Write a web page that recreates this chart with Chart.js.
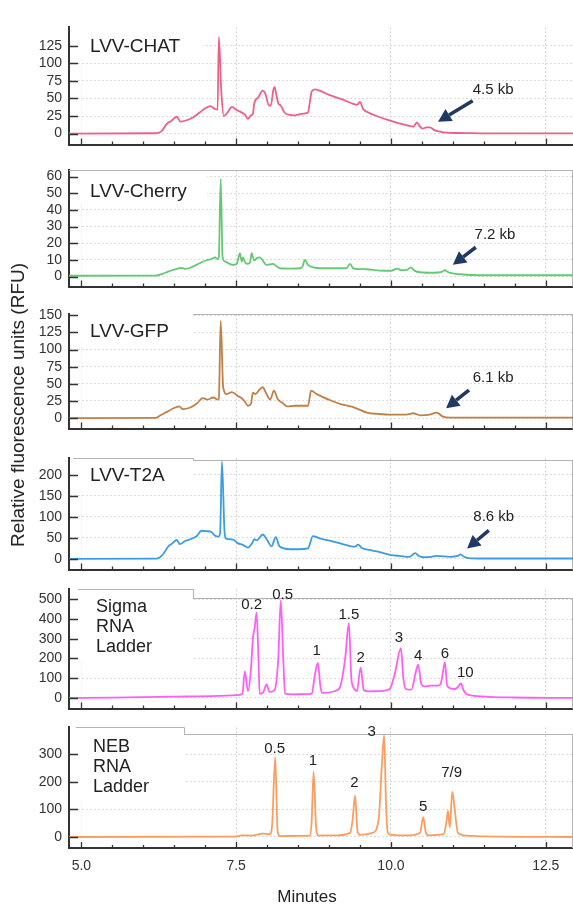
<!DOCTYPE html>
<html>
<head>
<meta charset="utf-8">
<script src="https://cdn.jsdelivr.net/npm/chart.js@4.4.1/dist/chart.umd.min.js"></script>
<style>
  html, body { margin: 0; padding: 0; background: #fff; }
  #wrap { position: relative; width: 573px; height: 910px; overflow: hidden;
          font-family: "Liberation Sans", Arial, sans-serif; }
  #wrap canvas { position: absolute; left: 0; }
  #ytitle { position: absolute; left: 18px; top: 405px; white-space: nowrap;
            transform: translate(-50%, -50%) rotate(-90deg);
            font-size: 19px; color: #222; }
</style>
</head>
<body>
<div id="wrap"><div id="ytitle">Relative fluorescence units (RFU)</div></div>
<script>
// ── Shared x axis (minutes) ─────────────────────────────────────────
var X_MIN = 4.8, X_MAX = 12.94;
var X_TICKS = [5.0, 5.5, 6.0, 6.5, 7.0, 7.5, 8.0, 8.5, 9.0, 9.5, 10.0, 10.5, 11.0, 11.5, 12.0, 12.5];
var X_LABELS = [5.0, 7.5, 10.0, 12.5];

// ── Traces: [minutes, RFU] ──────────────────────────────────────────
var lvvChat = [[4.8,0],[6.2,0.5],[6.3,4],[6.38,14],[6.45,18],[6.54,24],[6.6,17],[6.7,19],[6.8,23],[6.91,30],
  [7.0,36],[7.08,39],[7.16,35],[7.2,34],[7.22,137],[7.26,60],[7.3,25],[7.36,30],[7.43,38],[7.5,34],[7.59,30],
  [7.64,27],[7.69,21],[7.74,26],[7.77,28],[7.79,42],[7.86,52],[7.93,61],[7.97,57],[8.03,40],[8.06,40],[8.1,62],
  [8.12,66],[8.15,55],[8.18,43],[8.22,40],[8.28,30],[8.34,27],[8.45,26],[8.55,28],[8.66,30],[8.69,45],[8.72,60],
  [8.77,63],[8.9,59],[9.0,55],[9.2,49],[9.4,42],[9.45,41],[9.5,45],[9.55,35],[9.61,31],[9.8,24],[10.0,18],
  [10.2,13],[10.36,10],[10.42,16],[10.46,11],[10.51,7],[10.57,9],[10.63,9],[10.7,5],[10.79,3],[10.9,1.5],
  [11.2,0.8],[11.55,0.3],[12.94,0.3]];
var lvvCherry = [[4.8,0.5],[6.2,0.6],[6.3,1.5],[6.4,3],[6.5,4.2],[6.62,5.2],[6.68,4.6],[6.8,6],[6.91,8],[7.02,9.8],
  [7.1,10.5],[7.16,11.5],[7.2,10.5],[7.22,12],[7.25,58.5],[7.28,12],[7.32,9],[7.45,7],[7.51,7.7],[7.56,14],
  [7.59,9],[7.61,11.5],[7.64,9],[7.67,7.6],[7.72,8.2],[7.75,14],[7.79,9.7],[7.84,11.2],[7.88,11.5],[7.94,9],
  [7.99,7],[8.09,7.6],[8.21,5],[8.4,4.8],[8.53,5],[8.57,6],[8.61,10],[8.66,7],[8.75,5.5],[8.85,5],[9.28,5],
  [9.34,7.6],[9.39,5],[9.6,4.4],[9.82,3.6],[10.0,3.5],[10.11,4.8],[10.16,3.8],[10.26,4],[10.32,5.5],[10.38,3.6],
  [10.47,2.6],[10.7,2.3],[10.82,2.8],[10.87,3.8],[10.93,2.5],[11.12,1.4],[11.44,0.8],[12.94,0.8]];
var lvvGfp = [[4.8,0],[6.2,0.3],[6.26,3],[6.38,9],[6.48,14],[6.58,17],[6.64,13],[6.75,15],[6.86,21],[6.96,29],
  [7.04,27],[7.13,30],[7.2,27],[7.22,28],[7.25,142],[7.29,45],[7.35,35],[7.43,38],[7.53,32],[7.59,29],[7.64,24],
  [7.69,18],[7.74,21],[7.77,37],[7.81,35],[7.88,42],[7.93,45],[7.98,37],[8.05,27],[8.11,40],[8.17,28],[8.25,22],
  [8.32,17],[8.45,18],[8.66,18],[8.71,40],[8.8,35],[9.02,26],[9.2,20],[9.39,16],[9.61,8],[9.8,6],[9.98,5],
  [10.25,5],[10.31,6],[10.36,7],[10.47,4],[10.6,4.5],[10.74,8],[10.84,2],[10.95,0.5],[12.94,0.5]];
var lvvT2a = [[4.8,0],[6.2,0.5],[6.27,4],[6.32,11],[6.4,29],[6.47,37],[6.54,45],[6.59,35],[6.67,42],[6.78,48],
  [6.86,54],[6.94,67],[7.02,66],[7.1,64],[7.16,55],[7.21,53],[7.24,60],[7.27,231],[7.31,70],[7.33,49],[7.37,47],
  [7.45,46],[7.53,37],[7.6,34],[7.69,27],[7.76,38],[7.79,47],[7.83,44],[7.93,58],[8.0,45],[8.07,30],[8.14,52],
  [8.2,30],[8.37,23],[8.5,23],[8.66,25],[8.74,54],[8.85,49],[9.1,40],[9.3,32],[9.42,29],[9.47,34],[9.53,26],
  [9.7,20],[9.82,16],[10.0,9],[10.14,7],[10.3,5],[10.39,14],[10.45,7],[10.52,4],[10.65,5],[10.74,7],[10.95,5],
  [11.08,7],[11.12,11],[11.18,5],[11.25,2],[11.5,1],[12.94,1]];
var sigmaLadder = [[4.8,0],[5.5,1],[6.5,6],[7.2,10],[7.5,14],[7.6,20],[7.64,135],[7.69,34],[7.74,150],[7.77,300],
  [7.8,360],[7.83,433],[7.86,200],[7.88,20],[7.94,30],[7.99,68],[8.04,30],[8.12,40],[8.18,200],[8.22,495],
  [8.26,200],[8.29,22],[8.42,18],[8.6,19],[8.72,22],[8.77,113],[8.82,178],[8.86,60],[8.89,25],[9.1,35],[9.18,57],
  [9.26,200],[9.32,380],[9.36,100],[9.4,50],[9.45,35],[9.51,154],[9.56,40],[9.63,33],[9.8,34],[9.98,45],
  [10.06,120],[10.16,252],[10.2,100],[10.24,45],[10.33,42],[10.4,130],[10.44,169],[10.49,70],[10.55,58],
  [10.63,62],[10.76,62],[10.8,70],[10.83,110],[10.87,182],[10.91,60],[11.03,45],[11.08,55],[11.13,73],
  [11.17,40],[11.22,20],[11.44,8],[11.97,2],[12.94,0]];
var nebLadder = [[4.8,0],[7.45,1],[7.6,6],[7.75,5],[7.93,12],[8.04,10],[8.08,40],[8.13,290],[8.17,20],[8.21,3],
  [8.5,4],[8.69,5],[8.72,60],[8.75,237],[8.79,40],[8.82,5],[9.1,6],[9.34,15],[9.38,60],[9.42,151],[9.46,20],
  [9.5,8],[9.7,15],[9.8,60],[9.85,250],[9.89,370],[9.92,120],[9.95,15],[10.0,8],[10.3,6],[10.47,15],[10.52,72],
  [10.56,20],[10.6,6],[10.85,10],[10.9,60],[10.92,95],[10.95,35],[10.99,164],[11.03,100],[11.08,15],[11.22,5],
  [11.5,2],[12.94,0]];

// ── Y tick labels ───────────────────────────────────────────────────
var chatTicks = [0, 25, 50, 75, 100, 125];
var cherryTicks = [0, 10, 20, 30, 40, 50, 60];
var gfpTicks = [0, 25, 50, 75, 100, 125, 150];
var t2aTicks = [0, 50, 100, 150, 200];
var sigmaTicks = [0, 100, 200, 300, 400, 500];
var nebTicks = [0, 100, 200, 300];

// ── Annotations: [text, x, y, tailX, tailY, headX, headY] ───────────
var chatNote = ['4.5 kb', 11.65, 62.5, 11.32, 46.9, 10.76, 16.9];
var cherryNote = ['7.2 kb', 11.68, 25.2, 11.37, 17.6, 11.0, 7.1];
var gfpNote = ['6.1 kb', 11.65, 58.2, 11.26, 40.9, 10.89, 14.2];
var t2aNote = ['8.6 kb', 11.66, 100, 11.58, 67.8, 11.23, 24.5];

// Ladder peak sizes (kb): [text, x, y]
var sigmaPeaks = [['0.2', 7.75, 473], ['0.5', 8.25, 523], ['1', 8.80, 239], ['1.5', 9.32, 421], ['2', 9.51, 202],
  ['3', 10.13, 304], ['4', 10.44, 211], ['6', 10.87, 225], ['10', 11.20, 127]];
var nebPeaks = [['0.5', 8.12, 321], ['1', 8.74, 275], ['2', 9.41, 195], ['3', 9.69, 382], ['5', 10.52, 110],
  ['7/9', 10.98, 234]];

// ── Panel layout ────────────────────────────────────────────────────
var FONT = '"Liberation Sans", Arial, sans-serif';
var PAD = 10;
var panels = [
  { trace: lvvChat, color: '#ee6086', top: 22, bottom: 150, yMin: -15.6, yMax: 151, ticks: chatTicks,
    label: ['LVV-CHAT'], labelX: 90, labelY: 19, boxRight: 203, boxH: 30, border: null, outline: null, note: chatNote },
  { trace: lvvCherry, color: '#66c874', top: 165, bottom: 292, yMin: -6.0, yMax: 63.7, ticks: cherryTicks,
    label: ['LVV-Cherry'], labelX: 90, labelY: 21, boxRight: 207, boxH: 33, border: { off: 0, from: 69 }, outline: null, note: cherryNote },
  { trace: lvvGfp, color: '#c27f46', top: 309, bottom: 434, yMin: -15.4, yMax: 151.4, ticks: gfpTicks,
    label: ['LVV-GFP'], labelX: 90, labelY: 17, boxRight: 193, boxH: 29, border: { off: 0, from: 193 }, outline: null, note: gfpNote },
  { trace: lvvT2a, color: '#3b9de0', top: 453, bottom: 575, yMin: -25.4, yMax: 239, ticks: t2aTicks,
    label: ['LVV-T2A'], labelX: 90, labelY: 17, boxRight: 193, boxH: 33, border: { off: 2, from: 193 }, outline: { off: 0, from: 73 }, note: t2aNote },
  { trace: sigmaLadder, color: '#ff5ef5', top: 584, bottom: 714, yMin: -54.5, yMax: 551, ticks: sigmaTicks,
    label: ['Sigma', 'RNA', 'Ladder'], labelX: 96, labelY: 18, boxRight: 193, boxH: 71, border: { off: 9, from: 193 }, outline: { off: 0, from: 78 }, peaks: sigmaPeaks },
  { trace: nebLadder, color: '#fb9d5e', top: 722, bottom: 848, yMin: -40, yMax: 398, ticks: nebTicks,
    label: ['NEB', 'RNA', 'Ladder'], labelX: 93, labelY: 20, boxRight: 184, boxH: 73, border: { off: 7, from: 184 }, outline: { off: 0, from: 76 }, peaks: nebPeaks, last: true }
];

function isMajor(v) {
  return X_LABELS.some(function(m) { return Math.abs(m - v) < 1e-6; });
}

function drawArrow(ctx, x1, y1, x2, y2) {
  var ang = Math.atan2(y2 - y1, x2 - x1);
  var hl = 13, hw = 7;
  var bx = x2 - hl * Math.cos(ang), by = y2 - hl * Math.sin(ang);
  ctx.save();
  ctx.strokeStyle = '#1f3864';
  ctx.fillStyle = '#1f3864';
  ctx.lineWidth = 3.5;
  ctx.beginPath();
  ctx.moveTo(x1, y1);
  ctx.lineTo(bx, by);
  ctx.stroke();
  ctx.beginPath();
  ctx.moveTo(x2, y2);
  ctx.lineTo(bx + hw * Math.sin(ang), by - hw * Math.cos(ang));
  ctx.lineTo(bx - hw * Math.sin(ang), by + hw * Math.cos(ang));
  ctx.closePath();
  ctx.fill();
  ctx.restore();
}

// Label box, frame lines, inward tick marks and annotations
var panelDecor = {
  id: 'panelDecor',
  beforeDatasetsDraw: function(chart) {
    var p = chart.options.plugins.panelDecor.panel;
    var ctx = chart.ctx, a = chart.chartArea;
    ctx.save();
    ctx.fillStyle = '#fff';
    ctx.fillRect(a.left + 1.5, a.top - 1, p.boxRight - a.left - 1.5, p.boxH + 1);
    ctx.strokeStyle = '#b4b4b4';
    ctx.lineWidth = 1;
    if (p.border) {
      var by = Math.round(a.top + p.border.off) + 0.5;
      ctx.beginPath();
      ctx.moveTo(p.border.from, by);
      ctx.lineTo(a.right, by);
      ctx.moveTo(a.right - 0.5, by);
      ctx.lineTo(a.right - 0.5, a.bottom);
      ctx.stroke();
      if (p.outline) {
        var oy = Math.round(a.top + p.outline.off) + 0.5;
        ctx.beginPath();
        ctx.moveTo(p.outline.from, oy);
        ctx.lineTo(p.boxRight + 0.5, oy);
        ctx.lineTo(p.boxRight + 0.5, by);
        ctx.stroke();
      }
    }
    ctx.restore();
  },
  afterDatasetsDraw: function(chart) {
    var p = chart.options.plugins.panelDecor.panel;
    var ctx = chart.ctx, a = chart.chartArea;
    var xs = chart.scales.x, ys = chart.scales.y;
    ctx.save();
    // inward tick marks
    ctx.strokeStyle = '#333';
    ctx.lineWidth = 1.3;
    ctx.beginPath();
    p.ticks.forEach(function(v) {
      var y = Math.round(ys.getPixelForValue(v)) + 0.5;
      ctx.moveTo(a.left, y);
      ctx.lineTo(a.left + 9, y);
    });
    X_TICKS.forEach(function(v) {
      var x = Math.round(xs.getPixelForValue(v)) + 0.5;
      ctx.moveTo(x, a.bottom);
      ctx.lineTo(x, a.bottom - (isMajor(v) ? 6 : 3));
    });
    ctx.stroke();

    // panel name
    ctx.fillStyle = '#222';
    ctx.textAlign = 'left';
    ctx.textBaseline = 'middle';
    ctx.font = (p.label.length > 1 ? '18px ' : '19px ') + FONT;
    p.label.forEach(function(line, i) {
      ctx.fillText(line, p.labelX, a.top + p.labelY + i * 20);
    });

    // kb arrow notes
    ctx.textAlign = 'center';
    if (p.note) {
      var n = p.note;
      ctx.font = '15px ' + FONT;
      ctx.fillText(n[0], xs.getPixelForValue(n[1]), ys.getPixelForValue(n[2]));
      drawArrow(ctx, xs.getPixelForValue(n[3]), ys.getPixelForValue(n[4]),
                xs.getPixelForValue(n[5]), ys.getPixelForValue(n[6]));
    }
    // ladder peak sizes
    if (p.peaks) {
      ctx.font = '15px ' + FONT;
      p.peaks.forEach(function(pk) {
        ctx.fillText(pk[0], xs.getPixelForValue(pk[1]), ys.getPixelForValue(pk[2]));
      });
    }
    // x axis title
    if (p.last) {
      ctx.font = '17px ' + FONT;
      ctx.fillText('Minutes', 307, a.bottom + 49);
    }
    ctx.restore();
  }
};

var wrap = document.getElementById('wrap');
panels.forEach(function(p) {
  var canvas = document.createElement('canvas');
  var extra = p.last ? 910 - p.bottom : PAD;
  var h = p.bottom - p.top + PAD + extra;
  canvas.width = 573;
  canvas.height = h;
  canvas.style.width = '573px';
  canvas.style.height = h + 'px';
  canvas.style.top = (p.top - PAD) + 'px';
  wrap.insertBefore(canvas, wrap.firstChild);

  new Chart(canvas.getContext('2d'), {
    type: 'line',
    data: {
      datasets: [{
        data: p.trace.map(function(d) { return { x: d[0], y: d[1] }; }),
        borderColor: p.color,
        borderWidth: 1.8,
        pointRadius: 0,
        cubicInterpolationMode: 'monotone',
        fill: false
      }]
    },
    options: {
      responsive: false,
      animation: false,
      layout: { padding: { top: PAD, left: 0, right: 0, bottom: p.last ? 0 : PAD } },
      plugins: {
        legend: { display: false },
        tooltip: { enabled: false },
        panelDecor: { panel: p }
      },
      scales: {
        x: {
          type: 'linear',
          min: X_MIN,
          max: X_MAX,
          afterBuildTicks: function(s) { s.ticks = X_TICKS.map(function(v) { return { value: v }; }); },
          afterFit: function(s) { s.height = p.last ? extra : 0; },
          ticks: {
            display: !!p.last,
            autoSkip: false,
            maxRotation: 0,
            padding: 10,
            color: '#333',
            font: { family: FONT, size: 14 },
            callback: function(v) { return isMajor(v) ? v.toFixed(1) : ''; }
          },
          grid: {
            drawTicks: false,
            lineWidth: 1,
            color: function(c) {
              if (!c.tick) return 'rgba(0,0,0,0)';
              var v = c.tick.value;
              if (Math.abs(v - 5) < 1e-6) return '#ececec';
              return isMajor(v) ? '#d2d2d2' : 'rgba(0,0,0,0)';
            }
          },
          border: { color: '#333', width: 2, dash: [2, 2] }
        },
        y: {
          min: p.yMin,
          max: p.yMax,
          afterBuildTicks: function(s) { s.ticks = p.ticks.map(function(v) { return { value: v }; }); },
          afterFit: function(s) { s.width = 69; },
          ticks: { padding: 7, color: '#333', font: { family: FONT, size: 14 } },
          grid: { drawTicks: false, lineWidth: 1, color: '#dcdcdc' },
          border: { color: '#333', width: 2, dash: [2, 2] }
        }
      }
    },
    plugins: [panelDecor]
  });
});
</script>
</body>
</html>
